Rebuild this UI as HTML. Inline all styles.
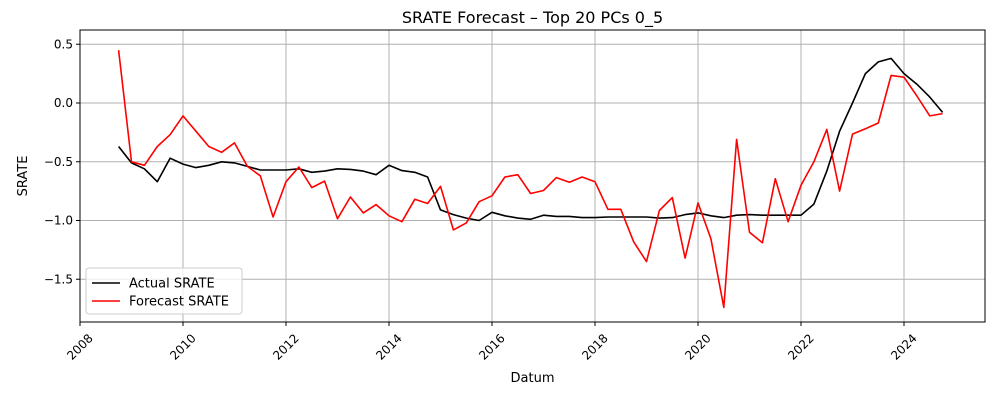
<!DOCTYPE html>
<html><head><meta charset="utf-8"><style>
body{margin:0;background:#fff;font-family:"Liberation Sans","DejaVu Sans",sans-serif}
svg text{font-family:"DejaVu Sans","Liberation Sans",sans-serif}
</style></head><body>
<svg id="c" width="1000" height="400"></svg>
<script>
const startYear = 2008.75;
const actual = [-0.37,-0.51,-0.56,-0.67,-0.47,-0.52,-0.55,-0.53,-0.50,-0.51,
-0.54,-0.57,-0.57,-0.57,-0.56,-0.59,-0.58,-0.56,-0.565,-0.58,
-0.61,-0.53,-0.575,-0.59,-0.63,-0.91,-0.95,-0.98,-1.00,-0.93,
-0.96,-0.98,-0.99,-0.955,-0.965,-0.965,-0.975,-0.975,-0.97,-0.97,
-0.97,-0.97,-0.98,-0.975,-0.95,-0.935,-0.96,-0.975,-0.955,-0.95,
-0.955,-0.955,-0.955,-0.955,-0.86,-0.58,-0.24,0.0,0.25,0.35,0.38,0.25,0.16,0.05,-0.08];
const forecast = [0.45,-0.50,-0.53,-0.37,-0.27,-0.11,-0.24,-0.37,-0.42,-0.34,
-0.54,-0.62,-0.97,-0.67,-0.545,-0.72,-0.665,-0.985,-0.80,-0.935,
-0.865,-0.96,-1.01,-0.82,-0.855,-0.71,-1.08,-1.02,-0.84,-0.79,
-0.63,-0.61,-0.77,-0.745,-0.635,-0.675,-0.63,-0.67,-0.905,-0.905,
-1.18,-1.35,-0.915,-0.805,-1.32,-0.85,-1.155,-1.74,-0.31,-1.10,
-1.19,-0.645,-1.01,-0.70,-0.50,-0.225,-0.75,-0.265,-0.22,-0.17,
0.235,0.22,0.06,-0.11,-0.09];
const xTicks = [2008,2010,2012,2014,2016,2018,2020,2022,2024];
const yTicks = [0.5,0.0,-0.5,-1.0,-1.5];
const yTickLabels = ["0.5","0.0","\u22120.5","\u22121.0","\u22121.5"];

const L=80,R=985,T=30,B=322;
const xs=v=>80+(v-2008)*51.5;
const ys=v=>103-v*117.5;
const svg=document.getElementById('c');
const NS='http://www.w3.org/2000/svg';
function mk(tag,attrs,parent){const e=document.createElementNS(NS,tag);for(const k in attrs)e.setAttribute(k,attrs[k]);(parent||svg).appendChild(e);return e;}

const grid=mk('g',{});


xTicks.forEach((t,i)=>{
  const x=xs(t);
  const gl=mk('line',{x1:x,x2:x,y1:T,y2:B,stroke:'#b0b0b0','stroke-width':1},grid);
  
  
  mk('line',{x1:x,x2:x,y1:B,y2:B+4,stroke:'#000'});
  const tx=mk('text',{x:0,y:4,'font-size':12,'text-anchor':'middle',transform:`translate(${x},${B+25}) rotate(-45)`});
  tx.textContent=t;
  
  
});
yTicks.forEach((t,i)=>{
  const y=ys(t);
  const gl=mk('line',{x1:L,x2:R,y1:y,y2:y,stroke:'#b0b0b0','stroke-width':1},grid);
  
  
  mk('line',{x1:L-4,x2:L,y1:y,y2:y,stroke:'#000'});
  const tx=mk('text',{x:L-7,y:y+4,'font-size':12,'text-anchor':'end'});
  tx.textContent=yTickLabels[i];
  
  
});
function series(arr,color,name){
  const pts=arr.map((v,i)=>xs(startYear+i*0.25).toFixed(1)+','+ys(v).toFixed(1)).join(' ');
  const p=mk('polyline',{points:pts,fill:'none',stroke:color,'stroke-width':1.6,'stroke-linejoin':'round'});
  
  
}
series(actual,'#000','actual-srate-line');
series(forecast,'#ff0000','forecast-srate-line');
const frame=mk('rect',{x:L,y:T,width:R-L,height:B-T,fill:'none',stroke:'#000','stroke-width':1});


const title=mk('text',{x:(L+R)/2,y:23,'font-size':16,'text-anchor':'middle'});
title.textContent='SRATE Forecast \u2013 Top 20 PCs 0_5';


const xl=mk('text',{x:(L+R)/2,y:382,'font-size':13,'text-anchor':'middle'});
xl.textContent='Datum';


const yl=mk('text',{x:0,y:0,'font-size':13,'text-anchor':'middle',transform:`translate(27,${(T+B)/2}) rotate(-90)`});
yl.textContent='SRATE';


const lg=mk('g',{});


mk('rect',{x:86,y:268,width:156,height:46,rx:3,fill:'#fff','fill-opacity':0.8,stroke:'#ccc'},lg);
[['Actual SRATE','#000',283],['Forecast SRATE','#ff0000',301]].forEach(([n,c,y])=>{
  mk('line',{x1:92,x2:120,y1:y,y2:y,stroke:c,'stroke-width':1.6},lg);
  const t=mk('text',{x:129,y:y+4.5,'font-size':13},lg);
  t.textContent=n;
  
  
});
</script>
</body></html>
